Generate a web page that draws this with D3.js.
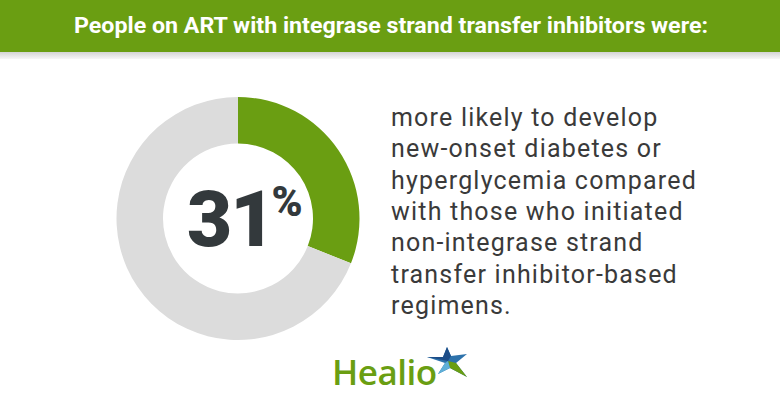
<!DOCTYPE html>
<html>
<head>
<meta charset="utf-8">
<script src="https://cdn.jsdelivr.net/npm/d3@7"></script>
<style>
  html, body { margin: 0; padding: 0; background: #fff; }
  svg { display: block; }
</style>
</head>
<body>
<div id="chart"></div>
<script>
// values
var sliceNames = ["More likely", "Rest"];
var sliceValues = [31, 69];
var sliceColors = ["#6a9e12", "#dcdcdc"];
var headline = "People on ART with integrase strand transfer inhibitors were:";
var bodyLines = [
    "more likely to develop",
    "new-onset diabetes or",
    "hyperglycemia compared",
    "with those who initiated",
    "non-integrase strand",
    "transfer inhibitor-based",
    "regimens."
];

var width = 780, height = 405;

var svg = d3.select("#chart").append("svg")
    .attr("width", width)
    .attr("height", height);

// header band + shadow strip
var defs = svg.append("defs");
var grad = defs.append("linearGradient")
    .attr("id", "shade").attr("x1", 0).attr("y1", 0).attr("x2", 0).attr("y2", 1);
grad.append("stop").attr("offset", "0%").attr("stop-color", "#d4d4d4");
grad.append("stop").attr("offset", "100%").attr("stop-color", "#f7f7f7");

svg.append("rect").attr("x", 0).attr("y", 52).attr("width", width).attr("height", 7)
    .attr("fill", "url(#shade)");
svg.append("rect").attr("x", 0).attr("y", 0).attr("width", width).attr("height", 52)
    .attr("fill", "#6a9e12");

svg.append("text")
    .attr("x", 391)
    .attr("y", 33)
    .attr("text-anchor", "middle")
    .attr("fill", "#fff")
    .attr("font-family", "Roboto, sans-serif")
    .attr("font-weight", "bold")
    .attr("font-size", 22)
    .attr("textLength", 634)
    .attr("lengthAdjust", "spacingAndGlyphs")
    .text(headline);

// donut
var cx = 238, cy = 218.5;
var pie = d3.pie().sort(null).value(function(d) { return d; });
var arc = d3.arc().innerRadius(75).outerRadius(121.5);

var g = svg.append("g").attr("transform", "translate(" + cx + "," + cy + ")");
g.selectAll("path")
    .data(pie(sliceValues))
    .enter().append("path")
    .attr("d", arc)
    .attr("fill", function(d, i) { return sliceColors[i]; });

var big = g.append("text")
    .attr("x", -51)
    .attr("y", 27)
    .attr("fill", "#33393c")
    .attr("font-family", "Roboto, sans-serif")
    .attr("font-weight", 900)
    .attr("font-size", 78)
    .attr("letter-spacing", -2)
    .text(sliceValues[0]);

// percent sign sits right after the number, raised
var bb = big.node().getBBox();
g.append("text")
    .attr("x", bb.x + bb.width - 2)
    .attr("y", -3)
    .attr("fill", "#33393c")
    .attr("font-family", "Roboto, sans-serif")
    .attr("font-weight", 900)
    .attr("font-size", 42)
    .text("%");

// description text
svg.append("g").selectAll("text")
    .data(bodyLines)
    .enter().append("text")
    .attr("x", 391)
    .attr("y", function(d, i) { return 126 + i * 31.3; })
    .attr("fill", "#3a3a3a")
    .attr("font-family", "Roboto, sans-serif")
    .attr("font-size", 25)
    .attr("letter-spacing", 1.2)
    .text(function(d) { return d; });

// logo
svg.append("text")
    .attr("x", 332)
    .attr("y", 385)
    .attr("fill", "#6a9e12")
    .attr("font-family", "'Open Sans', sans-serif")
    .attr("font-weight", 600)
    .attr("font-size", 35)
    .attr("letter-spacing", -0.5)
    .text("Healio");

var star = svg.append("g").attr("transform", "translate(448,361)");
star.append("path")
    .attr("d", "M-21,-4 L-5,-4 L-1,-14 L3,-5 L19,-7 L8,2 L19,16 L2,7 L-10,13 L-3,2 Z")
    .attr("fill", "#2d72ab");
star.append("path")
    .attr("d", "M-21,-4 L-5,-4 L-1,-14 L3,-5 L0,0 Z")
    .attr("fill", "#1d4d88");
star.append("path")
    .attr("d", "M0,0 L8,2 L19,16 L2,7 Z")
    .attr("fill", "#6a9e12");
star.append("path")
    .attr("d", "M0,0 L2,7 L-10,13 L-3,2 Z")
    .attr("fill", "#5fb0d8");
</script>
</body>
</html>
